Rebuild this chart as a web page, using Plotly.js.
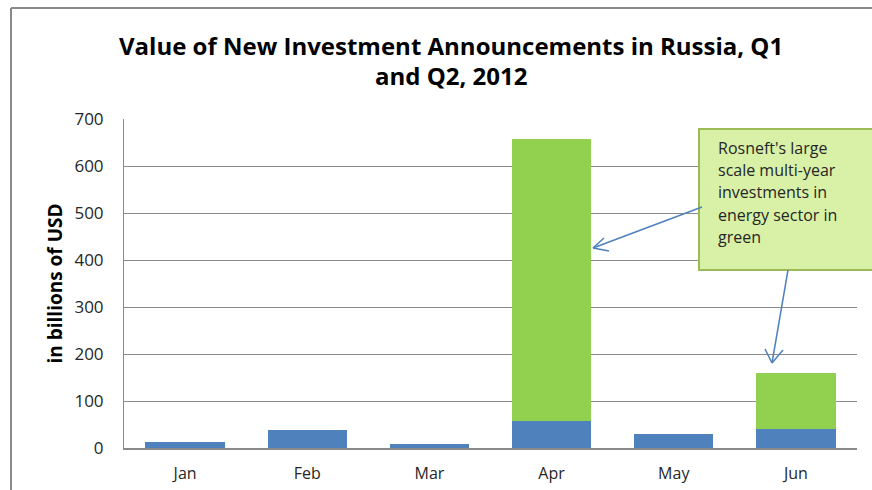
<!DOCTYPE html>
<html>
<head>
<meta charset="utf-8">
<script src="https://cdn.plot.ly/plotly-3.0.1.min.js"></script>
<style>html,body{margin:0;padding:0;background:#fff;}#chart{width:872px;height:490px;}</style>
</head>
<body>
<div id="chart"></div>
<script>
// ---- data ----
const months = ["Jan", "Feb", "Mar", "Apr", "May", "Jun"];
const otherInvestments = [13, 38, 8, 57, 30, 40];
const rosneftEnergy = [0, 0, 0, 600, 0, 119];
const yTickVals = [0, 100, 200, 300, 400, 500, 600, 700];
const titleLines = ["Value of New Investment Announcements in Russia, Q1", "and Q2, 2012"];
const yTitleText = "in billions of USD";
const noteLines = ["Rosneft's large", "scale multi-year", "investments in", "energy sector in", "green"];

// ---- layout helpers (pixel -> paper) ----
const L = 124, R = 15, T = 119, B = 42, W = 872, H = 490;
const pw = W - L - R, ph = H - T - B;
const px = x => (x - L) / pw;
const py = y => (H - B - y) / ph;

const blue = "#4f81bd", green = "#92d050", arrowC = "#4f81bd";

const traces = [
  {type: "bar", x: months, y: otherInvestments, marker: {color: blue}, name: "Other", hoverinfo: "skip"},
  {type: "bar", x: months, y: rosneftEnergy, marker: {color: green}, name: "Rosneft", hoverinfo: "skip"}
];

function line(x0, y0, x1, y1, color, width) {
  return {type: "line", xref: "paper", yref: "paper", x0: px(x0), y0: py(y0), x1: px(x1), y1: py(y1),
          line: {color: color, width: width}, layer: "above"};
}

const shapes = [
  // outer frame
  line(11, 490, 11, 8, "#8a8a8a", 2),
  line(11, 8, 872, 8, "#8a8a8a", 2),
  // note box
  {type: "rect", xref: "paper", yref: "paper", x0: px(699), y0: py(270), x1: px(873), y1: py(129),
   fillcolor: "#d9f1a6", line: {color: "#9bbb59", width: 2}, layer: "above"},
  // arrow to Apr
  line(702, 207, 593, 248, arrowC, 1.5),
  line(593, 248, 604, 238, arrowC, 1.5),
  line(593, 248, 609, 251, arrowC, 1.5),
  // arrow to Jun
  line(788, 270, 772, 363, arrowC, 1.5),
  line(772, 363, 765, 349, arrowC, 1.5),
  line(772, 363, 783, 350, arrowC, 1.5)
];

const annotations = noteLines.map((t, i) => ({
  xref: "paper", yref: "paper", x: px(716), y: py(148 + i * 22.2),
  xanchor: "left", yanchor: "middle", showarrow: false, text: t,
  font: {family: "Open Sans, sans-serif", size: 16, color: "#262626"}
}));
titleLines.forEach((t, i) => annotations.push({
  xref: "paper", yref: "paper", x: px(451), y: py(45 + i * 31),
  xanchor: "center", yanchor: "middle", showarrow: false, text: t,
  font: {family: "Open Sans, sans-serif", size: 24, color: "#000", weight: "bold"}
}));

const layout = {
  width: W, height: H,
  margin: {l: L, r: R, t: T, b: B, pad: 0},
  paper_bgcolor: "#ffffff", plot_bgcolor: "#ffffff",
  barmode: "stack", bargap: 0.35,
  showlegend: false,
  xaxis: {type: "category", showgrid: false, showline: true, linecolor: "#8a8a8a", linewidth: 1.5,
          ticks: "", ticklabelstandoff: 10,
          tickfont: {family: "Open Sans, sans-serif", size: 16, color: "#262626"}, fixedrange: true},
  yaxis: {range: [0, 700], tickvals: yTickVals, showgrid: true, gridcolor: "#8a8a8a", gridwidth: 1,
          showline: true, linecolor: "#8a8a8a", linewidth: 1, zeroline: false, ticks: "",
          ticklabelstandoff: 16,
          tickfont: {family: "Open Sans, sans-serif", size: 17, color: "#262626"},
          title: {text: yTitleText, standoff: 6,
                  font: {family: "Open Sans, sans-serif", size: 19, color: "#000", weight: "bold"}},
          fixedrange: true},
  shapes: shapes,
  annotations: annotations
};

Plotly.newPlot("chart", traces, layout, {displayModeBar: false, staticPlot: true});
</script>
</body>
</html>
